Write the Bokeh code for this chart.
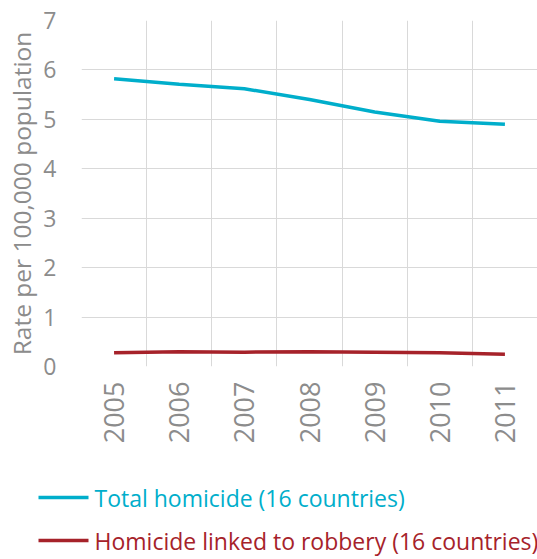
from bokeh.plotting import figure
from bokeh.models import FixedTicker, Range1d
from bokeh.core.properties import value
from bokeh.embed import file_html
from bokeh.resources import INLINE

years = ["2005", "2006", "2007", "2008", "2009", "2010", "2011"]
total_homicide = [5.82, 5.71, 5.62, 5.40, 5.15, 4.96, 4.90]
robbery_homicide = [0.28, 0.30, 0.29, 0.30, 0.29, 0.28, 0.25]
y_ticks = [0, 1, 2, 3, 4, 5, 6, 7]
series_labels = ["Total homicide  (16 countries)",
                 "Homicide linked to robbery (16 countries)"]

xpos = [i + 0.5 for i in range(len(years))]

FONT = "Open Sans"
GRAY = "#8c8c8c"
CYAN = "#00AECB"
RED = "#A6222A"
W = 537
LEFT = 81

p = figure(width=W, height=460, output_backend="svg", toolbar_location=None,
           x_range=Range1d(0, len(years)), y_range=Range1d(0, 7),
           min_border_left=LEFT, min_border_right=0, min_border_top=20,
           min_border_bottom=94)
p.outline_line_color = None

l1 = p.line(xpos, total_homicide, line_color=CYAN, line_width=3.5)
l2 = p.line(xpos, robbery_homicide, line_color=RED, line_width=3.5)

p.xaxis.ticker = FixedTicker(ticks=xpos)
p.xaxis.major_label_overrides = {x: y for x, y in zip(xpos, years)}
p.xaxis.major_label_orientation = 1.5708
p.yaxis.ticker = FixedTicker(ticks=y_ticks)
p.xgrid.ticker = FixedTicker(ticks=list(range(len(years) + 1)))
p.ygrid.ticker = FixedTicker(ticks=y_ticks)
for g in (p.xgrid, p.ygrid):
    g.grid_line_color = "#d9d9d9"
    g.grid_line_width = 1

for ax in (p.xaxis, p.yaxis):
    ax.axis_line_color = None
    ax.major_tick_line_color = None
    ax.minor_tick_line_color = None
    ax.major_label_text_font = FONT
    ax.major_label_text_color = GRAY
p.xaxis.major_label_text_font_size = "27px"
p.yaxis.major_label_text_font_size = "23px"
p.xaxis.major_label_standoff = 9
p.yaxis.major_label_standoff = 19
p.yaxis.axis_label = "Rate per 100,000 population"
p.yaxis.axis_label_text_font = FONT
p.yaxis.axis_label_text_font_size = "24.5px"
p.yaxis.axis_label_text_font_style = "normal"
p.yaxis.axis_label_text_color = GRAY
p.yaxis.axis_label_standoff = 2

# legend panel: separate root, x/y in pixels from its top-left corner
lg = figure(width=W, height=99, output_backend="svg", toolbar_location=None,
            x_range=Range1d(0, W), y_range=Range1d(99, 0),
            min_border=0, min_border_left=0, min_border_right=0,
            min_border_top=0, min_border_bottom=0,
            x_axis_type=None, y_axis_type=None)
lg.outline_line_color = None
lg.grid.visible = False
colors = [CYAN, RED]
rows = [37, 80]
for lab, col, yy in zip(series_labels, colors, rows):
    lg.segment(x0=38, y0=yy, x1=88, y1=yy, line_color=col, line_width=3.5)
    lg.text(x=[94], y=[yy], text=[lab], text_color=col, text_font=value(FONT),
            text_font_size="23px", text_baseline="middle", text_align="left")

open("out.html", "w").write(file_html([p, lg], INLINE))
